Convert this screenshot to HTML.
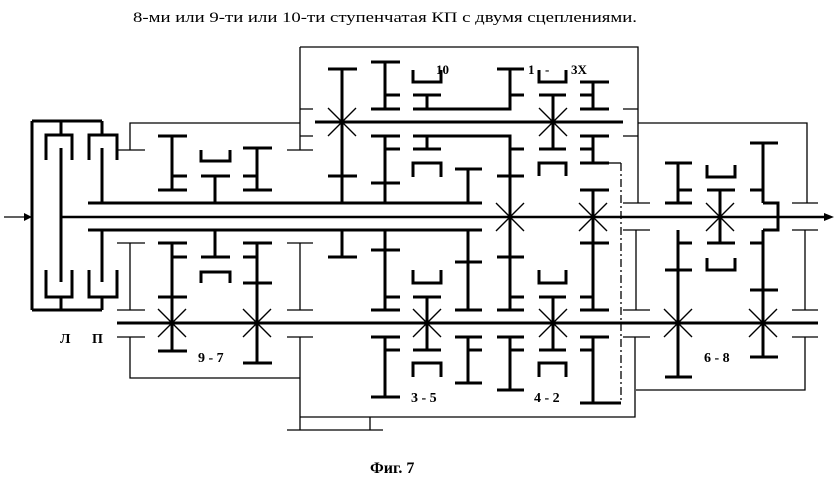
<!DOCTYPE html>
<html><head><meta charset="utf-8"><style>
html,body{margin:0;padding:0;background:#fff;}
svg{display:block}
text{font-family:"Liberation Serif",serif;font-weight:bold;fill:#000}
</style></head><body>
<svg width="840" height="484" viewBox="0 0 840 484" xmlns="http://www.w3.org/2000/svg">
<text x="133" y="22" font-size="15" textLength="504" lengthAdjust="spacingAndGlyphs" style="font-weight:normal">8-ми или 9-ти или 10-ти ступенчатая КП с двумя сцеплениями.</text>
<text x="370" y="473" font-size="16">Фиг. 7</text>

<!-- thin frame lines -->
<g stroke="#000" stroke-width="1.3" fill="none">
<path d="M130 150V123H300M300 47H638V203M300 47V150"/>
<path d="M117 150H145M287 150H313M300 109H313M300 136H313M623 109H638M623 136H638M623 203H650M623 230H650"/>
<path d="M117 243H145M287 243H313M130 243V310M300 243V310M117 310H145M287 310H313"/>
<path d="M117 337H145M287 337H313M130 337V378H300M300 337V430M300 417H635V337M287 430H383M370 417V430M300 417H313"/>
<path d="M636 230V310M623 310H650M623 337H650M636 390H805V337M805 230V310M792 310H818M792 337H818"/>
<path d="M638 123H807V203M792 203H818M792 230H818"/>
<path d="M30 217H4"/>
<path d="M621 163V403" stroke-dasharray="8,3,2,3"/>
<path d="M609 163H621"/>
</g>
<polygon points="32,217 24,213 24,221" fill="#000"/>
<polygon points="834,217 824,213 824,221" fill="#000"/>

<!-- thick parts -->
<g stroke="#000" stroke-width="3" fill="none">
<!-- clutch -->
<path d="M32 121V310M32 121H102M32 310H102M61 121V135M102 121V135M46 160V135H72V160M89 160V135H117V160"/>
<path d="M61 148V282M102 148V203M102 230V282M46 270V297H72V270M89 270V297H117V270M61 297V310M102 297V310"/>
<!-- shafts -->
<path d="M61 217H826" stroke-width="2.5"/>
<path d="M88 203H482M88 230H482"/>
<path d="M117 323H818"/>
<path d="M315 122H623"/>
<path d="M763 203H778V230H763"/>
<!-- section 1 upper -->
<path d="M158 136H187M172 136V190M158 190H187M172 176H187"/>
<path d="M215 203V176M201 176H230M201 150V161H230V150"/>
<path d="M243 148H272M257 148V190M243 190H272M243 176H257"/>
<!-- section 1 lower -->
<path d="M215 230V257M201 257H230M201 283V272H230V283"/>
<path d="M158 243H187M172 243V351M158 351H187M172 257H187M158 297H187"/>
<path d="M243 243H272M257 243V363M243 363H272M243 257H257M243 283H272"/>
<!-- upper countershaft gears -->
<path d="M328 69H357M342 69V203M328 176H357M342 230V257M328 257H357"/>
<path d="M371 62H400M385 62V109M371 109H400M385 95H400"/>
<path d="M371 136H400M385 136V203M385 149H400M371 183H400"/>
<path d="M385 230V310M371 250H400M385 297H400M371 310H400"/>
<path d="M371 337H400M385 337V397M371 397H400M385 350H400"/>
<!-- 10 clutch -->
<path d="M413 70V82H441V70M413 95H441M427 95V109M413 109H510V69M497 69H524M510 95H524"/>
<path d="M539 70V82H566V70M539 95H566M553 95V149M539 149H566M539 176V163H566V176"/>
<path d="M580 82H609M593 82V109M580 109H609M580 95H593"/>
<path d="M580 136H609M593 136V163M580 163H609M580 149H593"/>
<path d="M413 136H510V310M510 149H524M497 176H524M497 257H524M510 297H524M497 310H524"/>
<path d="M427 136V149M413 149H441M413 177V163H441V177"/>
<path d="M455 169H482M468 169V203M468 230V310M455 262H482M455 310H482"/>
<path d="M580 190H609M593 190V310M580 243H609M580 297H593M580 310H609"/>
<path d="M580 337H609M593 337V403M580 403H621M580 350H593"/>
<path d="M413 270V283H441V270M413 297H441M427 297V350M413 350H441M413 377V363H441V377"/>
<path d="M455 337H482M468 337V383M455 383H482M468 350H482"/>
<path d="M497 337H524M510 337V390M497 390H524M510 350H524"/>
<path d="M539 270V283H566V270M539 297H566M553 297V350M539 350H566M539 377V363H566V377"/>
<!-- right section -->
<path d="M750 143H778M763 143V203M750 190H763M763 230V357M750 243H763M750 290H778M750 357H778"/>
<path d="M665 163H692M678 163V203M678 190H692M665 203H692M678 230V377M678 243H692M665 270H692M665 377H692"/>
<path d="M707 165V177H735V165M707 190H735M720 190V243M707 243H735M707 258V270H735V258"/>
</g>
<!-- X marks -->
<g stroke="#000" stroke-width="1.4">
<path d="M158 309L186 337M186 309L158 337"/>
<path d="M243 309L271 337M271 309L243 337"/>
<path d="M328 108L356 136M356 108L328 136"/>
<path d="M539 108L567 136M567 108L539 136"/>
<path d="M496 203L524 231M524 203L496 231"/>
<path d="M579 203L607 231M607 203L579 231"/>
<path d="M413 309L441 337M441 309L413 337"/>
<path d="M539 309L567 337M567 309L539 337"/>
<path d="M664 309L692 337M692 309L664 337"/>
<path d="M749 309L777 337M777 309L749 337"/>
<path d="M706 203L734 231M734 203L706 231"/>
</g>
<g font-size="14">
<text x="60" y="343">Л</text>
<text x="92" y="343">П</text>
<text x="198" y="362">9 - 7</text>
<text x="411" y="402">3 - 5</text>
<text x="534" y="402">4 - 2</text>
<text x="704" y="362">6 - 8</text>
<text x="436" y="74" font-size="13">10</text>
<text x="528" y="74" font-size="13">1</text>
<text x="545" y="74" font-size="13">-</text>
<text x="571" y="74" font-size="13">3X</text>
</g>
</svg>
</body></html>
